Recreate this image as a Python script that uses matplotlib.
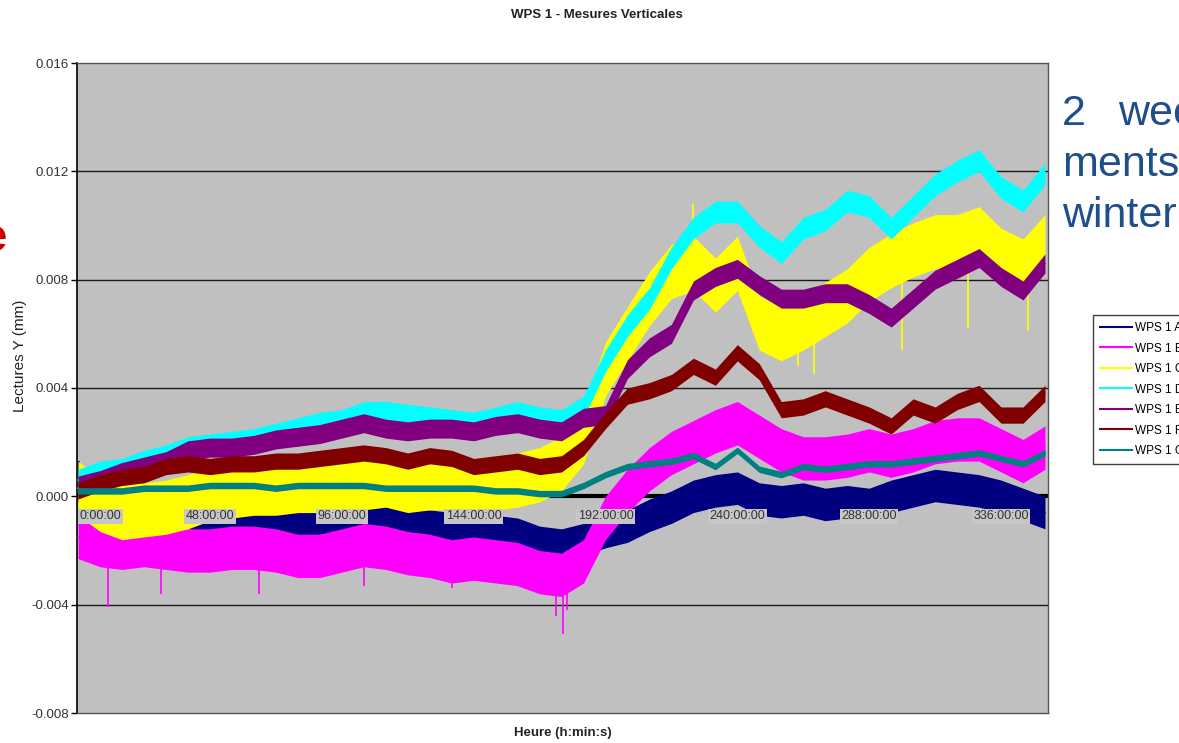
import matplotlib
matplotlib.use("Agg")
import matplotlib.pyplot as plt
from matplotlib.lines import Line2D
import numpy as np

plt.rcParams['font.family'] = ['Liberation Sans', 'DejaVu Sans']

# Sampling instants (hours since start), one reading every 8 h
hours = list(range(0, 353, 8))

# Vertical readings (mm) per sensor, trend of each trace
wps_a = [0.0004, 0.0002, -0.0002, -0.0004, -0.0005, -0.0006, -0.0007, -0.0006, -0.0008,
         -0.0007, -0.0009, -0.0008, -0.0007, -0.0006, -0.0009, -0.0010, -0.0011, -0.0012,
         -0.0012, -0.0013, -0.0014, -0.0017, -0.0018, -0.0016, -0.0013, -0.0011, -0.0007,
         -0.0004, 0.0000, 0.0002, 0.0003, -0.0001, -0.0002, -0.0001, -0.0003, -0.0002,
         -0.0003, 0.0000, 0.0002, 0.0004, 0.0003, 0.0002, 0.0000, -0.0003, -0.0006]
wps_b = [-0.0015, -0.0018, -0.0019, -0.0018, -0.0019, -0.0020, -0.0020, -0.0019, -0.0019,
         -0.0020, -0.0022, -0.0022, -0.0020, -0.0018, -0.0019, -0.0021, -0.0022, -0.0024,
         -0.0023, -0.0024, -0.0025, -0.0028, -0.0029, -0.0024, -0.0008, 0.0002, 0.0010,
         0.0016, 0.0020, 0.0024, 0.0027, 0.0022, 0.0017, 0.0014, 0.0014, 0.0015,
         0.0017, 0.0015, 0.0017, 0.0020, 0.0021, 0.0021, 0.0017, 0.0013, 0.0018]
wps_c = [0.0003, -0.0003, -0.0006, -0.0005, -0.0004, -0.0002, 0.0001, 0.0002, 0.0003,
         0.0003, 0.0004, 0.0004, 0.0005, 0.0005, 0.0006, 0.0004, 0.0005, 0.0005,
         0.0004, 0.0005, 0.0006, 0.0008, 0.0012, 0.0022, 0.0047, 0.0060, 0.0073,
         0.0083, 0.0086, 0.0078, 0.0086, 0.0064, 0.0060, 0.0064, 0.0069, 0.0074,
         0.0082, 0.0087, 0.0091, 0.0094, 0.0094, 0.0097, 0.0089, 0.0085, 0.0094]
wps_d = [0.0006, 0.0009, 0.0010, 0.0013, 0.0015, 0.0018, 0.0019, 0.0020, 0.0021,
         0.0023, 0.0025, 0.0027, 0.0028, 0.0031, 0.0031, 0.0030, 0.0029, 0.0028,
         0.0027, 0.0029, 0.0031, 0.0029, 0.0028, 0.0033, 0.0050, 0.0063, 0.0073,
         0.0088, 0.0099, 0.0105, 0.0105, 0.0096, 0.0090, 0.0099, 0.0102, 0.0109,
         0.0107, 0.0099, 0.0107, 0.0115, 0.0120, 0.0124, 0.0114, 0.0109, 0.0119]
wps_e = [0.0004, 0.0006, 0.0009, 0.0011, 0.0013, 0.0017, 0.0018, 0.0018, 0.0019,
         0.0021, 0.0022, 0.0023, 0.0025, 0.0027, 0.0025, 0.0024, 0.0025, 0.0025,
         0.0024, 0.0026, 0.0027, 0.0025, 0.0024, 0.0029, 0.0030, 0.0047, 0.0055,
         0.0060, 0.0076, 0.0081, 0.0084, 0.0078, 0.0073, 0.0073, 0.0075, 0.0075,
         0.0071, 0.0066, 0.0073, 0.0080, 0.0084, 0.0088, 0.0081, 0.0076, 0.0086]
wps_f = [0.0002, 0.0005, 0.0007, 0.0008, 0.0011, 0.0012, 0.0011, 0.0012, 0.0012,
         0.0013, 0.0013, 0.0014, 0.0015, 0.0016, 0.0015, 0.0013, 0.0015, 0.0014,
         0.0011, 0.0012, 0.0013, 0.0011, 0.0012, 0.0018, 0.0028, 0.0037, 0.0039,
         0.0042, 0.0048, 0.0044, 0.0053, 0.0046, 0.0032, 0.0033, 0.0036, 0.0033,
         0.0030, 0.0026, 0.0033, 0.0030, 0.0035, 0.0038, 0.0030, 0.0030, 0.0038]
wps_g = [0.0002, 0.0002, 0.0002, 0.0003, 0.0003, 0.0003, 0.0004, 0.0004, 0.0004,
         0.0003, 0.0004, 0.0004, 0.0004, 0.0004, 0.0003, 0.0003, 0.0003, 0.0003,
         0.0003, 0.0002, 0.0002, 0.0001, 0.0001, 0.0004, 0.0008, 0.0011, 0.0012,
         0.0013, 0.0015, 0.0011, 0.0017, 0.0010, 0.0008, 0.0011, 0.0010, 0.0011,
         0.0012, 0.0012, 0.0013, 0.0014, 0.0015, 0.0016, 0.0014, 0.0012, 0.0016]

# Typical scatter (half width of the fluctuation band, mm) of each sensor
scatter = [0.0006, 0.0008, 0.0010, 0.0004, 0.00035, 0.0003, 0.00012]

# Isolated peak readings (hour, mm) standing out of the band
peaks_a_hours = [0.5, 2.0, 96.0, 122.0]
peaks_a_values = [0.0013, 0.0011, 0.0004, 0.0003]
peaks_b_hours = [11.0, 30.0, 66.0, 104.0, 136.0, 174.0, 176.5, 178.0]
peaks_b_values = [-0.0041, -0.0036, -0.0036, -0.0033, -0.0034, -0.0044, -0.0051, -0.0042]
peaks_c_hours = [224.0, 262.0, 268.0, 300.0, 324.0, 346.0]
peaks_c_values = [0.0108, 0.0048, 0.0045, 0.0054, 0.0062, 0.0061]

series_names = ['WPS 1 A', 'WPS 1 B', 'WPS 1 C', 'WPS 1 D', 'WPS 1 E', 'WPS 1 F', 'WPS 1 G']
series_colors = ['#000080', '#ff00ff', '#ffff00', '#00ffff', '#800080', '#800000', '#008080']

y_ticks = [-0.008, -0.004, 0.000, 0.004, 0.008, 0.012, 0.016]
x_label_hours = [0, 48, 96, 144, 192, 240, 288, 336]
x_labels = ['0:00:00', '48:00:00', '96:00:00', '144:00:00', '192:00:00',
            '240:00:00', '288:00:00', '336:00:00']

W, H = 1179, 743
fig = plt.figure(figsize=(W / 100, H / 100), dpi=100)
ax = fig.add_axes([77 / W, 1 - 713 / H, 971 / W, 650 / H])
ax.set_facecolor('#c0c0c0')
ax.set_xlim(-0.4, 353.1)
ax.set_ylim(-0.008, 0.016)

# horizontal gridlines and the time axis crossing at zero
for g in y_ticks[1:-1]:
    if g != 0:
        ax.axhline(g, color='#1a1a1a', lw=1.0, zorder=1)
ax.axhline(0, color='black', lw=3.0, zorder=1)

t = np.array(hours, dtype=float)
all_series = [wps_a, wps_b, wps_c, wps_d, wps_e, wps_f, wps_g]
all_peaks = {0: (peaks_a_hours, peaks_a_values),
             1: (peaks_b_hours, peaks_b_values),
             2: (peaks_c_hours, peaks_c_values)}
for i, (vals, s, c) in enumerate(zip(all_series, scatter, series_colors)):
    v = np.array(vals)
    ax.fill_between(t, v - s, v + s, color=c, lw=0, zorder=2 + i)
    ax.plot(t, v, color=c, lw=1.0, zorder=2 + i)
    if i in all_peaks:
        ph, pv = all_peaks[i]
        base = np.interp(ph, t, v)
        ax.vlines(ph, base, pv, color=c, lw=1.2, zorder=2 + i)

ax.set_yticks(y_ticks)
ax.set_yticklabels([f'{v:.3f}' for v in y_ticks])
ax.tick_params(axis='y', length=4, width=1, labelsize=9.5, labelcolor='#333333', pad=2)
ax.set_xticks([])

for side in ['top', 'right', 'bottom']:
    ax.spines[side].set_color('#555555')
    ax.spines[side].set_linewidth(1.0)
ax.spines['left'].set_color('black')
ax.spines['left'].set_linewidth(1.2)

# time labels sitting just under the zero line
for h, lab in zip(x_label_hours, x_labels):
    ha = 'left' if h == 0 else 'center'
    ax.text(h + (0.6 if h == 0 else 0), -0.00074, lab, ha=ha, va='center', fontsize=9,
            color='#333333', zorder=20,
            bbox=dict(boxstyle='square,pad=0.12', fc='#c6c6c6', ec='none'))

fig.text(597 / W, 1 - 15 / H, 'WPS 1 - Mesures Verticales', ha='center', va='center',
         fontsize=9.5, fontweight='bold', color='#222222')
fig.text(563 / W, 1 - 733 / H, 'Heure (h:min:s)', ha='center', va='center',
         fontsize=9.5, fontweight='bold', color='#222222')
fig.text(20 / W, 1 - 356 / H, 'Lectures Y (mm)', ha='center', va='center',
         rotation=90, fontsize=11, color='#222222')

handles = [Line2D([0], [0], color=c, lw=1.5) for c in series_colors]
leg = fig.legend(handles, series_names, loc='upper left',
                 bbox_to_anchor=(1093 / W, 1 - 315 / H), frameon=True, fancybox=False,
                 edgecolor='#404040', facecolor='white', framealpha=1, fontsize=8.5,
                 handlelength=2.7, handletextpad=0.25, labelspacing=0.72,
                 borderpad=0.6, borderaxespad=0)
leg.get_frame().set_linewidth(1.0)

# side notes
blue = '#1f4e8c'
fig.text(1062 / W, 1 - 125 / H, '2', fontsize=31, color=blue, va='baseline', ha='left')
fig.text(1118 / W, 1 - 125 / H, 'wee', fontsize=31, color=blue, va='baseline', ha='left')
fig.text(1062 / W, 1 - 176 / H, 'ments', fontsize=31, color=blue, va='baseline', ha='left')
fig.text(1062 / W, 1 - 227 / H, 'winter', fontsize=31, color=blue, va='baseline', ha='left')
fig.text(7 / W, 1 - 251 / H, 'e', fontsize=34, color='#cc0000', fontweight='bold',
         va='baseline', ha='right')

fig.savefig('out.png', dpi=100)
